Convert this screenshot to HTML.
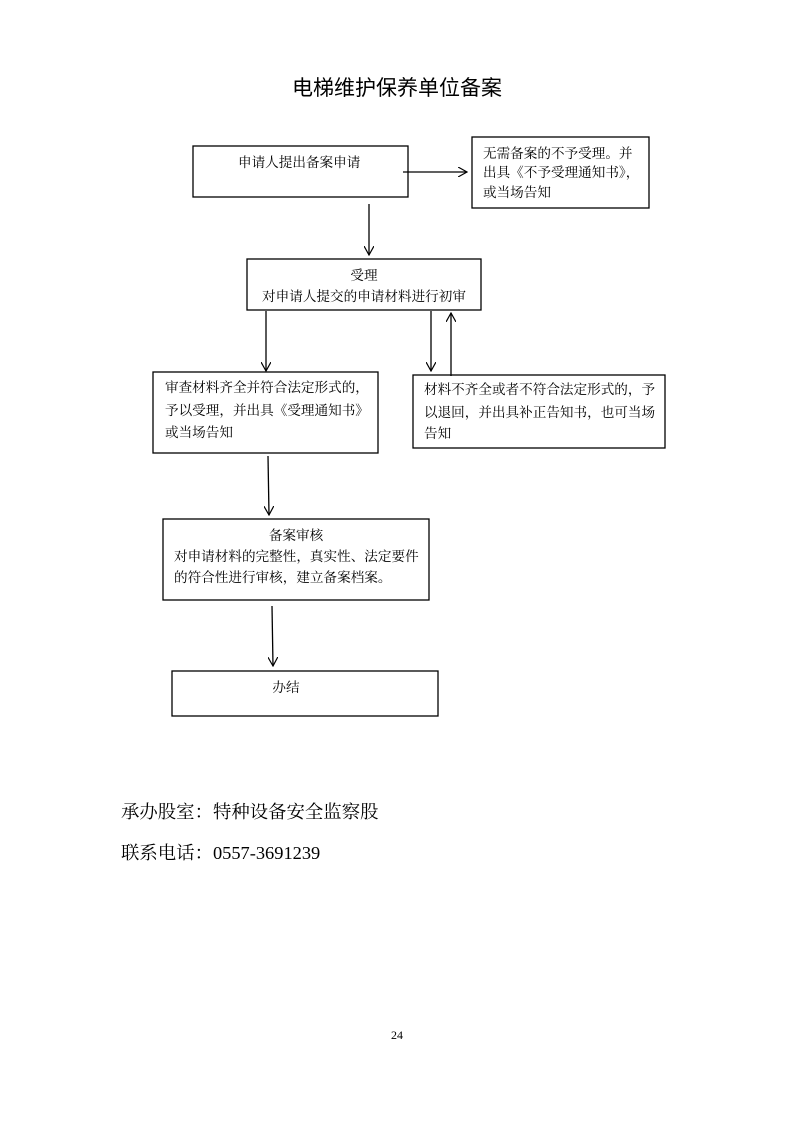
<!DOCTYPE html>
<html><head><meta charset="utf-8"><style>
html,body{margin:0;padding:0;background:#fff;}
svg{display:block;}
.t{font-family:"Liberation Serif","Noto Serif CJK SC","Noto Sans CJK SC",serif;font-size:13.6px;fill:#000;}
</style></head><body>
<svg width="793" height="1122" viewBox="0 0 793 1122" xmlns="http://www.w3.org/2000/svg">
<defs><marker id="a" viewBox="0 0 10 10" refX="9" refY="5" markerWidth="10" markerHeight="10" markerUnits="userSpaceOnUse" orient="auto"><path d="M0,0 L9,5 L0,10" fill="none" stroke="#000" stroke-width="1.2"/></marker></defs>
<text x="397" y="95" text-anchor="middle" style="font-family:'Liberation Sans','Noto Sans CJK SC',sans-serif;font-size:21px;">电梯维护保养单位备案</text>
<g fill="none" stroke="#000" stroke-width="1.3">
<rect x="193" y="146" width="215" height="51"/>
<rect x="472" y="137" width="177" height="71"/>
<rect x="247" y="259" width="234" height="51"/>
<rect x="153" y="372" width="225" height="81"/>
<rect x="413" y="375" width="252" height="73"/>
<rect x="163" y="519" width="266" height="81"/>
<rect x="172" y="671" width="266" height="45"/>
<line x1="403" y1="172" x2="467" y2="172" marker-end="url(#a)"/>
<line x1="369" y1="204" x2="369" y2="255" marker-end="url(#a)"/>
<line x1="266" y1="311" x2="266" y2="371" marker-end="url(#a)"/>
<line x1="431" y1="311" x2="431" y2="371" marker-end="url(#a)"/>
<line x1="451" y1="376" x2="451" y2="313" marker-end="url(#a)"/>
<line x1="268" y1="456" x2="269" y2="515" marker-end="url(#a)"/>
<line x1="272" y1="606" x2="273" y2="666" marker-end="url(#a)"/>
</g>
<text class="t" x="238" y="167">申请人提出备案申请</text>
<text class="t" x="483" y="158">无需备案的不予受理。并</text>
<text class="t" x="483" y="177">出具《不予受理通知书》，</text>
<text class="t" x="483" y="197">或当场告知</text>
<text class="t" x="364" y="280" text-anchor="middle">受理</text>
<text class="t" x="364" y="301" text-anchor="middle">对申请人提交的申请材料进行初审</text>
<text class="t" x="165" y="392">审查材料齐全并符合法定形式的，</text>
<text class="t" x="165" y="415">予以受理，并出具《受理通知书》</text>
<text class="t" x="165" y="437">或当场告知</text>
<text class="t" x="424" y="394">材料不齐全或者不符合法定形式的，予</text>
<text class="t" x="424" y="417">以退回，并出具补正告知书，也可当场</text>
<text class="t" x="424" y="438">告知</text>
<text class="t" x="296" y="540" text-anchor="middle">备案审核</text>
<text class="t" x="174" y="561">对申请材料的完整性，真实性、法定要件</text>
<text class="t" x="174" y="582">的符合性进行审核，建立备案档案。</text>
<text class="t" x="286" y="692" text-anchor="middle">办结</text>
<text x="121" y="818" style="font-family:'Liberation Serif','Noto Serif CJK SC',serif;font-size:18.4px;">承办股室：特种设备安全监察股</text>
<text x="121" y="859" style="font-family:'Liberation Serif','Noto Serif CJK SC',serif;font-size:18.4px;">联系电话：0557-3691239</text>
<text x="397" y="1039" text-anchor="middle" style="font-family:'Liberation Serif',serif;font-size:12px;">24</text>
</svg>
</body></html>
